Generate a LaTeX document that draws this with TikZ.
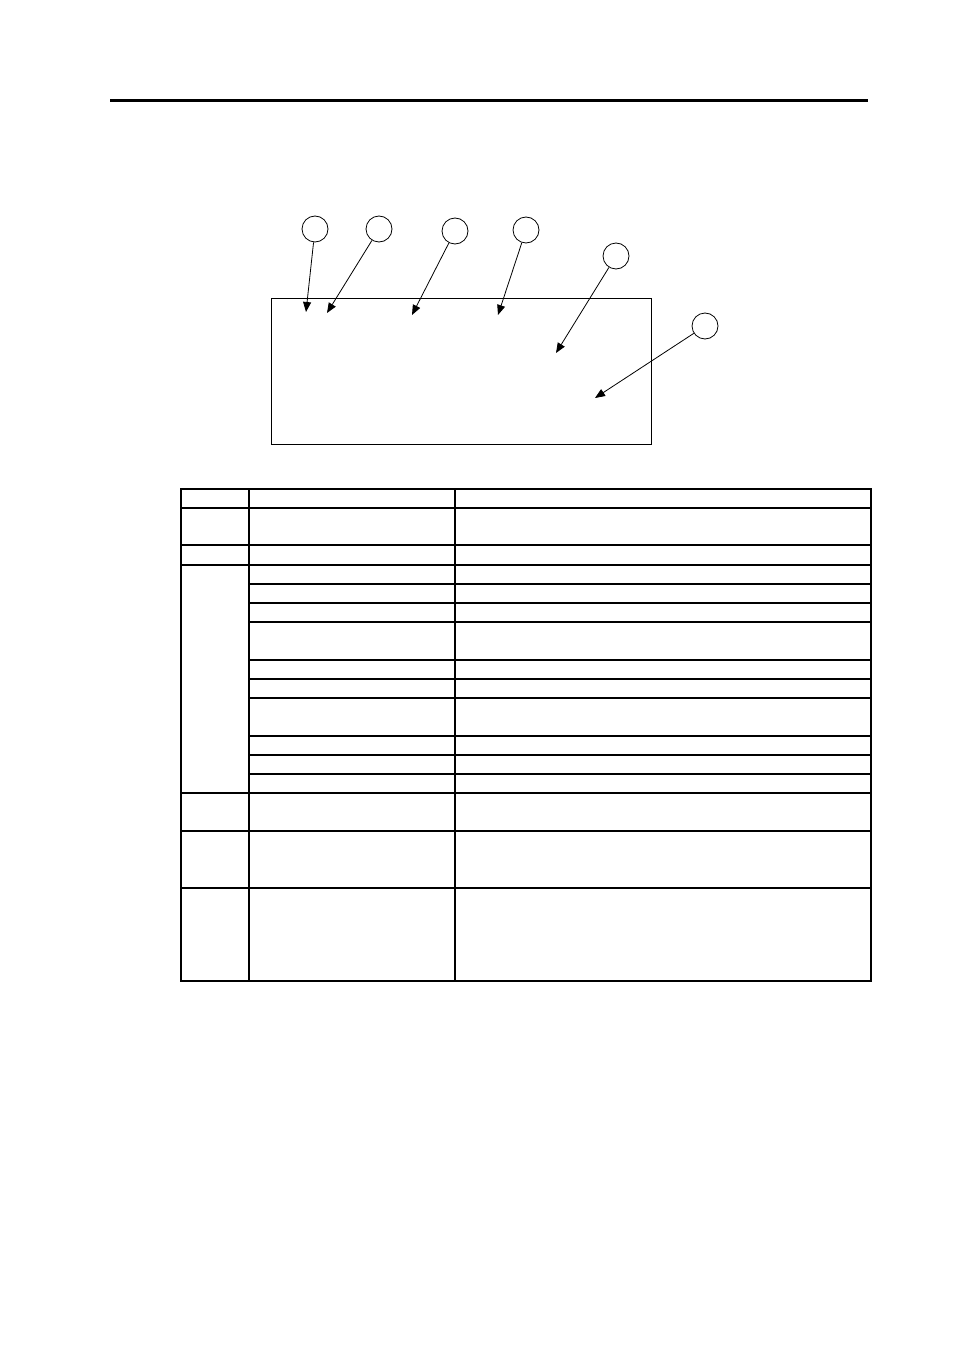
\documentclass[tikz,border=0pt]{standalone}
\usepackage{tikz}
\usetikzlibrary{arrows.meta}

\tikzset{
  callout/.style = {draw, circle, minimum size = 26pt, inner sep = 0pt, line width = 0.8pt},
  pointer/.style = {-{Triangle[length = 10pt, width = 8pt]}, line width = 0.8pt},
  grid line/.style = {line width = 1.4pt},
}

\begin{document}
\begin{tikzpicture}[x = 1pt, y = -1pt]
			\useasboundingbox (0,0) rectangle (954,1351);

			\def\tL{181};
			\def\tA{249};
			\def\tB{455};
			\def\tR{871};
			\def\tT{489};
			\def\tD{981};

			% header rule
			\draw [line width = 3pt] (110,101) -- (868,101);

			% panel
			\draw [line width = 0.8pt] (271,298) rectangle (651,444);

			\begin{scope}
				\node [callout] (c1) at (315,229) {};
				\node [callout] (c2) at (379,229) {};
				\node [callout] (c3) at (455,231) {};
				\node [callout] (c4) at (526,230) {};
				\node [callout] (c5) at (616,256) {};
				\node [callout] (c6) at (705,326) {};
			\end{scope}

			\begin{scope}
				\coordinate (t1) at (306,312);
				\coordinate (t2) at (327,313);
				\coordinate (t3) at (412,315);
				\coordinate (t4) at (498,315);
				\coordinate (t5) at (556,353);
				\coordinate (t6) at (595,398);
			\end{scope}

			\begin{scope}[pointer]
				\foreach \i in {1,...,6}
					\draw (c\i) -- (t\i);
			\end{scope}

			% table
			\begin{scope}[grid line]
				\draw (\tL,\tT) rectangle (\tR,\tD);
				\foreach \x in {\tA,\tB}
					\draw (\x,\tT) -- (\x,\tD);
				\foreach \y in {508,545,565,793,831,888}
					\draw (\tL,\y) -- (\tR,\y);
				\foreach \y in {584,603,622,660,679,698,736,755,774}
					\draw (\tA,\y) -- (\tR,\y);
			\end{scope}
		\end{tikzpicture}
\end{document}
